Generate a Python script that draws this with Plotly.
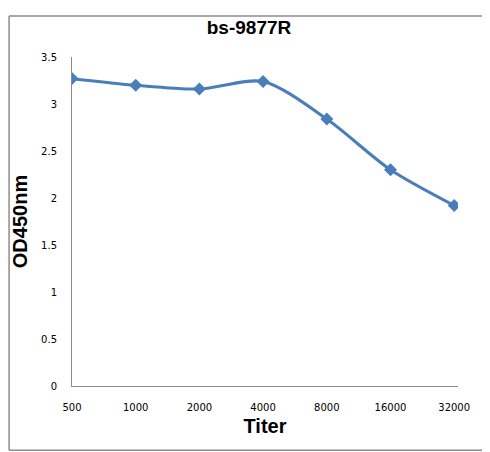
import plotly.graph_objects as go

# ── Dados ─────────────────────────────────────────────────────────────────────
titers = ["500", "1000", "2000", "4000", "8000", "16000", "32000"]
od450  = [3.27, 3.20, 3.16, 3.24, 2.84, 2.30, 1.92]
y_ticks = [0, 0.5, 1, 1.5, 2, 2.5, 3, 3.5]

BLUE = "#4a7ebb"
AXIS = "#8c8c8c"

# a página tem 8px de margem no body: figura um pouco menor para caber
fig = go.Figure(go.Scatter(
    x=titers, y=od450,
    mode="lines+markers",
    line=dict(color=BLUE, width=3, shape="spline", smoothing=0.8),
    marker=dict(symbol="diamond", size=10, color=BLUE),
    showlegend=False,
))

# moldura cinza em volta de tudo (4 linhas)
X0, X1, Y0, Y1 = -0.163, 1.075, -0.195, 1.125
frame = dict(type="line", xref="paper", yref="paper",
             line=dict(color="#8c8c8c", width=1.5))
shapes = [
    dict(frame, x0=X0, x1=X1, y0=Y1, y1=Y1),
    dict(frame, x0=X0, x1=X1, y0=Y0, y1=Y0),
    dict(frame, x0=X0, x1=X0, y0=Y0, y1=Y1),
    dict(frame, x0=X1, x1=X1, y0=Y0, y1=Y1),
]

fig.update_layout(
    width=482, height=444,
    paper_bgcolor="white", plot_bgcolor="white",
    margin=dict(l=64, r=32, t=49, b=66),
    font=dict(family="DejaVu Sans", size=10, color="black"),
    title=dict(
        text="<b>bs-9877R</b>",
        font=dict(family="Liberation Sans", size=19, color="black"),
        x=0.5, xanchor="center", y=0.957, yanchor="middle",
    ),
    xaxis=dict(
        type="category", range=[0, 6.06],
        showgrid=False, zeroline=False,
        showline=True, linecolor=AXIS, linewidth=1,
        ticks="", tickfont=dict(size=10), ticklabelstandoff=12,
        title=dict(text="<b>Titer</b>",
                   font=dict(family="Liberation Sans", size=20), standoff=6),
    ),
    yaxis=dict(
        range=[0, 3.5], tickvals=y_ticks,
        ticktext=[f"{v:g}" for v in y_ticks],
        showgrid=False, zeroline=False,
        showline=True, linecolor=AXIS, linewidth=1,
        ticks="", ticklabelstandoff=12,
        title=dict(text="<b>OD450nm</b>",
                   font=dict(family="Liberation Sans", size=20), standoff=8),
    ),
    shapes=shapes,
)

fig.write_html("out.html")
